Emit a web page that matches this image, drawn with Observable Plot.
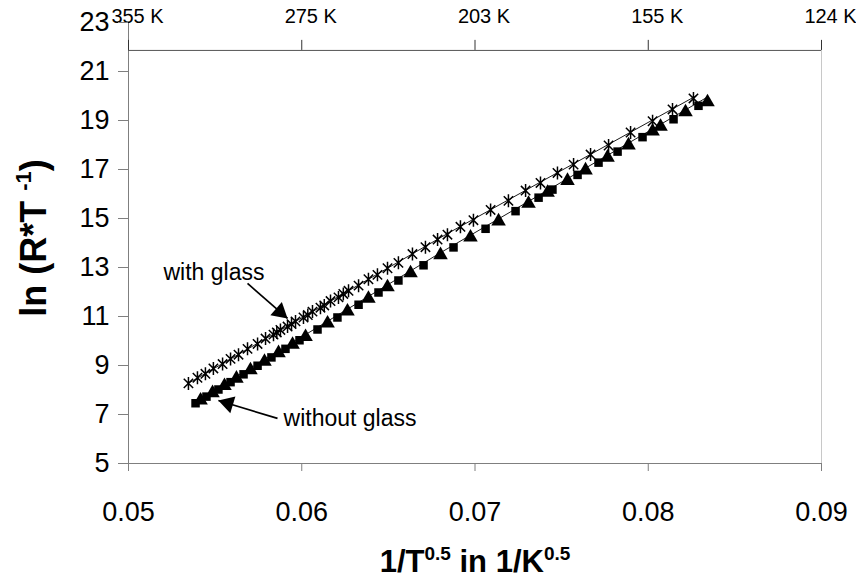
<!DOCTYPE html>
<html><head><meta charset="utf-8">
<script src="https://cdn.jsdelivr.net/npm/d3@7"></script>
<script src="https://cdn.jsdelivr.net/npm/@observablehq/plot@0.6"></script>
<style>
body{margin:0;background:#fff;}
svg{font-family:"Liberation Sans",Arial,sans-serif;}
</style></head><body><div id="chart"></div>
<script>
// ---- tick values / labels ----
const xTicks = [0.05, 0.06, 0.07, 0.08, 0.09];
const xTickLabels = ["0.05", "0.06", "0.07", "0.08", "0.09"];
const topTickLabels = ["355 K", "275 K", "203 K", "155 K", "124 K"];
const yTicks = [5, 7, 9, 11, 13, 15, 17, 19, 21, 23];

// ---- with glass (asterisk markers) ----
const withGlassX = [0.05346,0.05398,0.05444,0.05490,0.05543,0.05589,0.05635,0.05687,0.05745,0.05791,0.05837,0.05877,0.05918,0.05964,0.06010,0.06062,0.06108,0.06166,0.06212,0.06270,0.06328,0.06385,0.06437,0.06495,0.06558,0.06639,0.06714,0.06784,0.06841,0.06916,0.06991,0.07090,0.07193,0.07292,0.07378,0.07476,0.07569,0.07667,0.07771,0.07898,0.08025,0.08140,0.08261,0.05856,0.05941,0.06035,0.06130,0.06240];
const withGlassY = [8.27,8.50,8.66,8.88,9.06,9.27,9.44,9.68,9.88,10.10,10.26,10.45,10.59,10.80,10.96,11.20,11.36,11.63,11.78,12.05,12.26,12.52,12.70,12.97,13.19,13.55,13.83,14.14,14.34,14.66,14.93,15.35,15.72,16.14,16.45,16.86,17.20,17.61,17.98,18.51,18.97,19.45,19.90,10.35,10.69,11.06,11.45,11.92];

// ---- without glass (square markers) ----
const squareX = [0.05387,0.05450,0.05519,0.05589,0.05664,0.05745,0.05825,0.05906,0.05987,0.06091,0.06206,0.06328,0.06443,0.06558,0.06703,0.06876,0.07061,0.07234,0.07367,0.07447,0.07592,0.07713,0.07823,0.07967,0.08146,0.08290];
const squareY = [7.46,7.73,8.02,8.32,8.64,8.99,9.33,9.68,10.03,10.47,10.96,11.48,11.98,12.47,13.09,13.82,14.58,15.30,15.85,16.18,16.78,17.28,17.73,18.32,19.05,19.60];

// ---- without glass (triangle markers) ----
const triangleX = [0.05416,0.05485,0.05554,0.05623,0.05704,0.05785,0.05866,0.05947,0.06022,0.06149,0.06264,0.06385,0.06495,0.06628,0.06801,0.06974,0.07136,0.07309,0.07419,0.07534,0.07638,0.07765,0.07886,0.08025,0.08071,0.08215,0.08342];
const triangleY = [7.58,7.88,8.17,8.47,8.81,9.16,9.51,9.85,10.17,10.72,11.21,11.73,12.20,12.77,13.51,14.23,14.89,15.61,16.06,16.54,16.97,17.49,17.99,18.56,18.75,19.34,19.75];

// ---- fitted lines ----
const fitWithX = [0.0534, 0.0684, 0.0828];
const fitWithY = [8.25, 14.38, 20.02];
const fitWithoutX = [0.0539, 0.0680, 0.0834];
const fitWithoutY = [7.55, 13.60, 19.95];

// ---- annotations ----
const noteText = ["with glass", "without glass"];
const noteX = [0.05202, 0.05895];
const noteY = [12.80, 6.84];
const arrowX1 = [0.05687, 0.05860];
const arrowY1 = [12.35, 6.84];
const arrowX2 = [0.05918, 0.05519];
const arrowY2 = [10.92, 7.57];

const xTitle = "1/T^0.5 in 1/K^0.5";
const yTitle = "ln (R*T -1)";

const zip = (xs, ys) => xs.map((x, i) => ({x, y: ys[i]}));
const withGlass = zip(withGlassX, withGlassY);
const squares = zip(squareX, squareY);
const triangles = zip(triangleX, triangleY);
const fitWith = zip(fitWithX, fitWithY);
const fitWithout = zip(fitWithoutX, fitWithoutY);
const notes = noteText.map((t, i) => ({t, x: noteX[i], y: noteY[i]}));
const arrows = arrowX1.map((x1, i) => ({x1, y1: arrowY1[i], x2: arrowX2[i], y2: arrowY2[i]}));
const topTicks = xTicks.map((x, i) => ({x, label: topTickLabels[i]}));

// Excel-style "*" marker: an X crossed by a vertical bar
const starX = {
  draw(context, size) {
    const r = Math.sqrt(size / Math.PI);
    const d = r * 0.72;
    context.moveTo(-d, -d); context.lineTo(d, d);
    context.moveTo(-d, d); context.lineTo(d, -d);
    context.moveTo(0, -r); context.lineTo(0, r);
  }
};

// layout: the secondary (top) axis sits a little below the top of the y range
const topAxisAt = 21.86;   // y value where the top axis line is drawn
const topTickEnd = 22.27;  // upper end of its tick marks

const axisGray = "#7f7f7f";

const chart = Plot.plot({
  width: 856, height: 581,
  marginLeft: 128, marginRight: 35, marginTop: 22, marginBottom: 118,
  x: {domain: [0.05, 0.09]},
  y: {domain: [5, 23]},
  style: {fontFamily: "Liberation Sans, Arial, sans-serif", background: "white", color: "black"},
  marks: [
    Plot.ruleX([0.05], {stroke: axisGray}),
    Plot.ruleY([5], {stroke: axisGray}),
    Plot.ruleX([0.09], {y1: topAxisAt, y2: 5, stroke: "#c8c8c8"}),
    Plot.ruleY([topAxisAt], {x1: 0.05, x2: 0.09, stroke: "#555"}),
    Plot.ruleX(topTicks, {x: "x", y1: topAxisAt, y2: topTickEnd, stroke: "#333"}),
    Plot.text(topTicks, {x: "x", y: topTickEnd, text: "label", dy: -17, dx: 9, lineAnchor: "bottom", fontSize: 20, fill: "black"}),
    Plot.axisY(yTicks, {tickSize: 10, tickPadding: 9, fontSize: 27, label: null, stroke: axisGray, fill: "black"}),
    Plot.axisX(xTicks, {anchor: "bottom", tickSize: 8, tickPadding: 30, fontSize: 27, label: null, stroke: axisGray, fill: "black",
      tickFormat: d => xTickLabels[xTicks.indexOf(d)]}),
    Plot.line(fitWith, {x: "x", y: "y", stroke: "black", strokeWidth: 0.9}),
    Plot.line(fitWithout, {x: "x", y: "y", stroke: "black", strokeWidth: 0.9}),
    Plot.dot(squares, {x: "x", y: "y", symbol: "square", r: 4.8, fill: "black"}),
    Plot.dot(triangles, {x: "x", y: "y", symbol: "triangle", r: 5.4, fill: "black"}),
    Plot.dot(withGlass, {x: "x", y: "y", symbol: starX, r: 6.5, stroke: "black", strokeWidth: 1.5}),
    Plot.text(notes, {x: "x", y: "y", text: "t", textAnchor: "start", fontSize: 23, fill: "black"}),
    Plot.link(arrows, {x1: "x1", y1: "y1", x2: "x2", y2: "y2", stroke: "black", strokeWidth: 1.7}),
    Plot.dot([arrows[0]], {x: "x2", y: "y2", symbol: "triangle", r: 6.5, fill: "black", rotate: 131, dx: -7.6, dy: -6.6}),
    Plot.dot([arrows[1]], {x: "x2", y: "y2", symbol: "triangle", r: 6.5, fill: "black", rotate: -73, dx: 9.6, dy: 2.9}),
    Plot.text([xTitle], {frameAnchor: "bottom", dy: 108, lineAnchor: "bottom", fontSize: 31, fontWeight: "bold", fill: "black"}),
    Plot.text([yTitle], {frameAnchor: "left", dx: -94, dy: -5, rotate: -90, textAnchor: "middle", fontSize: 36, fontWeight: "bold", fill: "black"})
  ]
});

// superscripts in the axis titles
chart.querySelectorAll("text").forEach(t => {
  if (t.textContent === xTitle) {
    t.innerHTML = '1/T<tspan dy="-12" font-size="19">0.5</tspan><tspan dy="12"> in 1/K</tspan><tspan dy="-12" font-size="19">0.5</tspan>';
  } else if (t.textContent === yTitle) {
    t.innerHTML = 'ln (R*T <tspan dy="-15" font-size="22">-1</tspan><tspan dy="15">)</tspan>';
  }
});

document.getElementById("chart").appendChild(chart);
</script>
</body></html>
